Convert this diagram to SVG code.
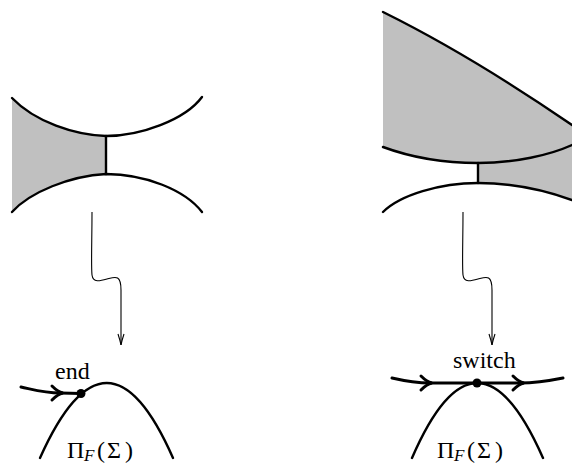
<svg xmlns="http://www.w3.org/2000/svg" width="572" height="465" viewBox="0 0 572 465">
<style>
.shade{fill:#c0c0c0;stroke:none}
.edge{fill:none;stroke:#000;stroke-width:2.4;stroke-linecap:round}
.thin{fill:none;stroke:#000;stroke-width:1.1}
.thick{fill:none;stroke:#000;stroke-width:3;stroke-linecap:round}
.lbl{font-family:"Liberation Serif","Times New Roman",serif;font-size:24px;fill:#000}
.math{font-family:"Liberation Serif","Times New Roman",serif;font-size:24px;fill:#000}
</style>
<rect width="572" height="465" fill="#fff"/>
<g id="left-surface">
<path class="shade" d="M12,98 C35,122 75,135 106,136 L106,174 C70,176 30,192 12,212 Z"/>
<path class="edge" d="M12,98 C35,122 75,135 106,136 C140,136 185,120 202,97"/>
<path class="edge" d="M12,212 C30,192 70,176 106,174 C145,174 185,190 202,212"/>
<path class="edge" d="M106,136 L106,174"/>
</g>
<g id="right-surface">
<path class="shade" d="M383,12 Q470,55 572,125 L572,145 C550,155 515,163 478,163 C445,163 410,157 383,147 Z"/>
<path class="shade" d="M478,163 C515,163 550,155 572,145 L572,200 C550,192 515,183 478,183 Z"/>
<path class="edge" d="M383,12 Q470,55 572,125"/>
<path class="edge" d="M383,147 C410,157 445,163 478,163 C515,163 550,155 572,145"/>
<path class="edge" d="M383,212 C400,195 440,183 478,183 C515,183 550,192 572,200"/>
<path class="edge" d="M478,163 L478,183"/>
</g>
<g id="connectors">
<g id="arrow-left">
<path class="thin" d="M92,212 C92,240 91,265 92,275 C93,283 100,281 107,279 C115,277 121,274 121,290 L121,345"/>
<path class="thin" d="M118,334 Q120,340 121,345 Q122,340 124,334"/>
</g>
<g id="arrow-right" transform="translate(371,0)">
<path class="thin" d="M92,212 C92,240 91,265 92,275 C93,283 100,281 107,279 C115,277 121,274 121,290 L121,345"/>
<path class="thin" d="M118,334 Q120,340 121,345 Q122,340 124,334"/>
</g>
</g>
<g id="end-node">
<path class="edge" d="M40,458 Q107,308 173,458"/>
<path class="thick" d="M21,387 C35,390 45,393 60,393 L81,393.5"/>
<path class="thick" d="M52,386 Q58,392 63,393 Q58,394 52,400"/>
<circle cx="81" cy="393.5" r="4.5" fill="#000"/>
<text class="lbl" x="55" y="379">end</text>
<text class="math" x="67" y="458">Π<tspan x="84" dy="3" font-size="17" font-style="italic">F</tspan><tspan x="97 107 125" dy="-3">(Σ)</tspan></text>
</g>
<g id="switch-node">
<path class="edge" d="M412,458 Q477,308 543,458"/>
<path class="thick" d="M392,378 C405,381 415,383 430,383 L520,383 C535,383 548,381 563,378"/>
<path class="thick" d="M421,376 Q427,382 432,383 Q427,384 421,390"/>
<path class="thick" d="M513,376 Q519,382 524,383 Q519,384 513,390"/>
<circle cx="477" cy="383" r="4.5" fill="#000"/>
<text class="lbl" x="453" y="368">switch</text>
<text class="math" x="437" y="458">Π<tspan x="454" dy="3" font-size="17" font-style="italic">F</tspan><tspan x="467 477 495" dy="-3">(Σ)</tspan></text>
</g>
</svg>
